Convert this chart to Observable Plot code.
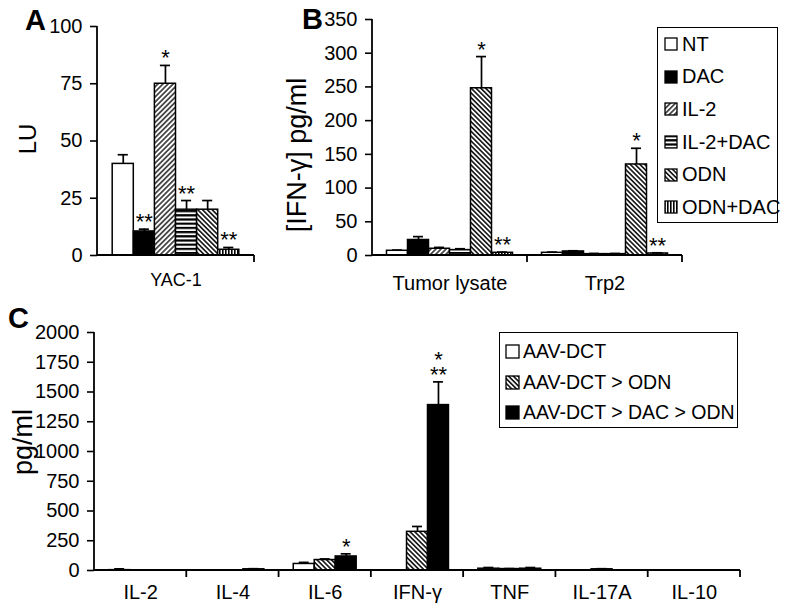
<!DOCTYPE html>
<html><head><meta charset="utf-8">
<script src="https://cdn.jsdelivr.net/npm/d3@7"></script>
<script src="https://cdn.jsdelivr.net/npm/@observablehq/plot@0.6"></script>
<style>
body{margin:0;background:#fff;font-family:"Liberation Sans",Arial,sans-serif;color:#000;}
#root{position:relative;width:786px;height:613px;overflow:hidden;background:#fff;}
.panel{position:absolute;}
.legend{position:absolute;border:1.5px solid #000;background:#fff;box-sizing:border-box;}
.legend .row{position:absolute;left:0;right:0;display:flex;align-items:center;white-space:nowrap;}
.legend svg{flex:none;}
</style></head>
<body>
<div id="root">
<svg width="0" height="0" style="position:absolute;left:0;top:0">
<defs>
<pattern id="hatchUp" patternUnits="userSpaceOnUse" width="3.6" height="6" patternTransform="rotate(45)">
<rect width="3.6" height="6" fill="#fff"/><line x1="1.8" y1="0" x2="1.8" y2="6" stroke="#000" stroke-width="1.3"/>
</pattern>
<pattern id="hatchDown" patternUnits="userSpaceOnUse" width="3.4" height="6" patternTransform="rotate(-45)">
<rect width="3.4" height="6" fill="#fff"/><line x1="1.7" y1="0" x2="1.7" y2="6" stroke="#000" stroke-width="1.5"/>
</pattern>
<pattern id="hatchHoriz" patternUnits="userSpaceOnUse" width="6" height="4.2">
<rect width="6" height="4.2" fill="#fff"/><rect y="0" width="6" height="2.2" fill="#000"/>
</pattern>
<pattern id="hatchVert" patternUnits="userSpaceOnUse" width="3" height="6">
<rect width="3" height="6" fill="#fff"/><rect x="0" width="1.6" height="6" fill="#000"/>
</pattern>
</defs>
</svg>
</div>
<script>
// ---------- DATA ----------
// Panel A
const seriesA = ["NT", "DAC", "IL-2", "IL-2+DAC", "ODN", "ODN+DAC"];
const groupsA = ["YAC-1"];
const valuesA = [40, 10.5, 75, 20, 20, 2.5];
const errTopA = [44, 11.5, 83, 24, 24, 3.5];
const starsA = [
  {group: "YAC-1", series: "DAC", text: "**", level: 0},
  {group: "YAC-1", series: "IL-2", text: "*", level: 0},
  {group: "YAC-1", series: "IL-2+DAC", text: "**", level: 0},
  {group: "YAC-1", series: "ODN+DAC", text: "**", level: 0}
];
const ticksA = [0, 25, 50, 75, 100];

// Panel B
const groupsB = ["Tumor lysate", "Trp2"];
const tumorValuesB = [7, 23, 10, 8, 248, 4];
const tumorErrTopB = [8, 28, 12, 10, 295, 5];
const trp2ValuesB = [4, 6, 2, 2, 135, 3];
const trp2ErrTopB = [5, 7, 3, 3, 159, 4];
const starsB = [
  {group: "Tumor lysate", series: "ODN", text: "*", level: 0},
  {group: "Tumor lysate", series: "ODN+DAC", text: "**", level: 0},
  {group: "Trp2", series: "ODN", text: "*", level: 0},
  {group: "Trp2", series: "ODN+DAC", text: "**", level: 0}
];
const ticksB = [0, 50, 100, 150, 200, 250, 300, 350];

// Panel C
const seriesC = ["AAV-DCT", "AAV-DCT > ODN", "AAV-DCT > DAC > ODN"];
const cytokinesC = ["IL-2", "IL-4", "IL-6", "IFN-γ", "TNF", "IL-17A", "IL-10"];
const aavValuesC = [3, 2, 55, 0, 15, 2, 0];
const aavErrTopC = [14, 4, 68, 0, 25, 4, 0];
const odnValuesC = [2, 2, 88, 325, 12, 10, 0];
const odnErrTopC = [4, 4, 97, 370, 16, 15, 0];
const dacValuesC = [0, 10, 118, 1390, 15, 2, 0];
const dacErrTopC = [0, 15, 140, 1585, 25, 4, 0];
const starsC = [
  {group: "IL-6", series: "AAV-DCT > DAC > ODN", text: "*", level: 0},
  {group: "IFN-γ", series: "AAV-DCT > DAC > ODN", text: "**", level: 0},
  {group: "IFN-γ", series: "AAV-DCT > DAC > ODN", text: "*", level: 1}
];
const ticksC = [0, 250, 500, 750, 1000, 1250, 1500, 1750, 2000];

// fills (styles)
const fillsAB = ["#fff", "#000", "url(#hatchUp)", "url(#hatchHoriz)", "url(#hatchDown)", "url(#hatchVert)"];
const fillsC = ["#fff", "url(#hatchDown)", "#000"];

// ---------- BUILD ROWS ----------
function buildRows(groups, series, valueCols, errCols) {
  const rows = [];
  groups.forEach((g, gi) => series.forEach((s, si) => {
    rows.push({group: g, series: s, value: valueCols[gi][si], top: errCols[gi][si]});
  }));
  return rows;
}
function transpose(cols) { return cols[0].map((_, i) => cols.map(c => c[i])); }

const rowsA = buildRows(groupsA, seriesA, [valuesA], [errTopA]);
const rowsB = buildRows(groupsB, seriesA, [tumorValuesB, trp2ValuesB], [tumorErrTopB, trp2ErrTopB]);
const rowsC = buildRows(cytokinesC, seriesC,
  transpose([aavValuesC, odnValuesC, dacValuesC]),
  transpose([aavErrTopC, odnErrTopC, dacErrTopC]));

function attachTops(stars, rows) {
  return stars.map(st => ({...st, top: rows.find(r => r.group === st.group && r.series === st.series).top}));
}

const FONT = "Liberation Sans, Arial, sans-serif";
const root = document.getElementById("root");

function makePanel(o) {
  const errs = o.rows.filter(r => r.top > r.value);
  const stars = attachTops(o.stars, o.rows);
  const starOpts = {fx: "group", x: "series", y: "top", text: "text", lineAnchor: "bottom", fontSize: 22, fill: "#000"};
  const plot = Plot.plot({
    width: o.width, height: o.height,
    marginLeft: o.ml, marginRight: o.mr, marginTop: o.mt, marginBottom: o.mb,
    style: {fontFamily: FONT, color: "#000", background: "transparent", overflow: "visible"},
    fx: {domain: o.groups, padding: 0, round: false},
    x: {domain: o.series, paddingInner: 0, paddingOuter: o.padOuter, round: false, axis: null},
    y: {domain: o.yDomain},
    color: {type: "ordinal", domain: o.series, range: o.fills},
    marks: [
      Plot.axisY({ticks: o.yTicks, tickFormat: d => String(d), tickSize: 7, tickPadding: 8, fontSize: 20, label: null, strokeWidth: 1.6}),
      Plot.axisFx({anchor: "bottom", tickSize: 0, tickPadding: o.xPad, fontSize: o.xFont, label: null}),
      Plot.barY(o.rows, {fx: "group", x: "series", y: "value", fill: "series", stroke: "#000", strokeWidth: 1.5}),
      Plot.ruleX(errs, {fx: "group", x: "series", y1: "value", y2: "top", stroke: "#000", strokeWidth: 1.7}),
      Plot.tickY(errs, {fx: "group", x: "series", y: "top", stroke: "#000", strokeWidth: 1.7, insetLeft: 5.5, insetRight: 5.5}),
      Plot.text(stars.filter(d => d.level === 0), starOpts),
      Plot.text(stars.filter(d => d.level === 1), {...starOpts, dy: -15})
    ]
  });
  plot.classList.add("panel");
  plot.style.left = o.left + "px";
  plot.style.top = o.top + "px";
  root.appendChild(plot);

  // axis lines and boundary ticks through Plot's own scales
  const svg = d3.select(plot);
  const fx = plot.scale("fx"), y = plot.scale("y");
  const y0 = y.apply(0), yT = y.apply(o.yDomain[1]);
  const xL = fx.apply(o.groups[0]);
  const xR = fx.apply(o.groups[o.groups.length - 1]) + fx.bandwidth;
  const g = svg.append("g").attr("stroke", "#000").attr("stroke-width", 1.8);
  g.append("line").attr("x1", xL).attr("x2", xL).attr("y1", y0 + 0.9).attr("y2", yT);
  g.append("line").attr("x1", xL).attr("x2", xR).attr("y1", y0).attr("y2", y0);
  o.groups.forEach(gr => {
    const xb = fx.apply(gr) + fx.bandwidth;
    g.append("line").attr("x1", xb).attr("x2", xb).attr("y1", y0).attr("y2", y0 + 7);
  });
  // panel letter
  svg.append("text").attr("x", o.letterX).attr("y", o.letterY).attr("text-anchor", "start")
    .attr("font-family", FONT).attr("font-weight", "bold").attr("font-size", 29).text(o.letter);
  // y label
  svg.append("text").attr("transform", `translate(${o.ylX},${o.ylY}) rotate(-90)`)
    .attr("text-anchor", "middle").attr("dominant-baseline", "central")
    .attr("font-family", FONT).attr("font-size", o.ylSize).text(o.ylabel);
  return plot;
}

makePanel({left: 0, top: 0, width: 270, height: 300, ml: 97, mr: 16, mt: 26, mb: 45,
  groups: groupsA, series: seriesA, rows: rowsA, stars: starsA, fills: fillsAB,
  yDomain: [0, 100], yTicks: ticksA, padOuter: 0.72, xPad: 18, xFont: 18,
  letter: "A", letterX: 25, letterY: 30, ylabel: "LU", ylX: 27, ylY: 139, ylSize: 24});

makePanel({left: 270, top: 0, width: 516, height: 300, ml: 102, mr: 104, mt: 19, mb: 45,
  groups: groupsB, series: seriesA, rows: rowsB, stars: starsB, fills: fillsAB,
  yDomain: [0, 350], yTicks: ticksB, padOuter: 0.69, xPad: 20, xFont: 20,
  letter: "B", letterX: 32, letterY: 29, ylabel: "[IFN-γ] pg/ml", ylX: 27, ylY: 155, ylSize: 27});

makePanel({left: 0, top: 300, width: 786, height: 313, ml: 94, mr: 46, mt: 32, mb: 43,
  groups: cytokinesC, series: seriesC, rows: rowsC, stars: starsC, fills: fillsC,
  yDomain: [0, 2000], yTicks: ticksC, padOuter: 0.7, xPad: 14, xFont: 20,
  letter: "C", letterX: 8, letterY: 28, ylabel: "pg/ml", ylX: 23, ylY: 142, ylSize: 27});

// ---------- LEGENDS ----------
function makeLegend(series, fills, o) {
  const box = d3.select(root).append("div").attr("class", "legend")
    .style("left", o.left + "px").style("top", o.top + "px")
    .style("width", o.width + "px").style("height", o.height + "px")
    .style("font-size", o.fontSize + "px");
  series.forEach((s, i) => {
    const row = box.append("div").attr("class", "row")
      .style("top", (o.offset + i * o.rowH) + "px").style("height", o.rowH + "px");
    const sw = row.append("svg").attr("width", o.sw + 2).attr("height", o.sw + 2)
      .style("margin-left", o.swLeft + "px");
    sw.append("rect").attr("x", 1).attr("y", 1).attr("width", o.sw).attr("height", o.sw)
      .attr("fill", fills[i]).attr("stroke", "#000").attr("stroke-width", 1.3);
    row.append("span").style("margin-left", o.gap + "px").text(s);
  });
}
makeLegend(seriesA, fillsAB, {left: 657, top: 27, width: 121, height: 196, rowH: 32.6, offset: 0,
  fontSize: 20, sw: 12, swLeft: 6, gap: 4});
makeLegend(seriesC, fillsC, {left: 499, top: 332, width: 239, height: 96, rowH: 30.5, offset: 3.5,
  fontSize: 19.5, sw: 13, swLeft: 5, gap: 3});
</script>
</body></html>
